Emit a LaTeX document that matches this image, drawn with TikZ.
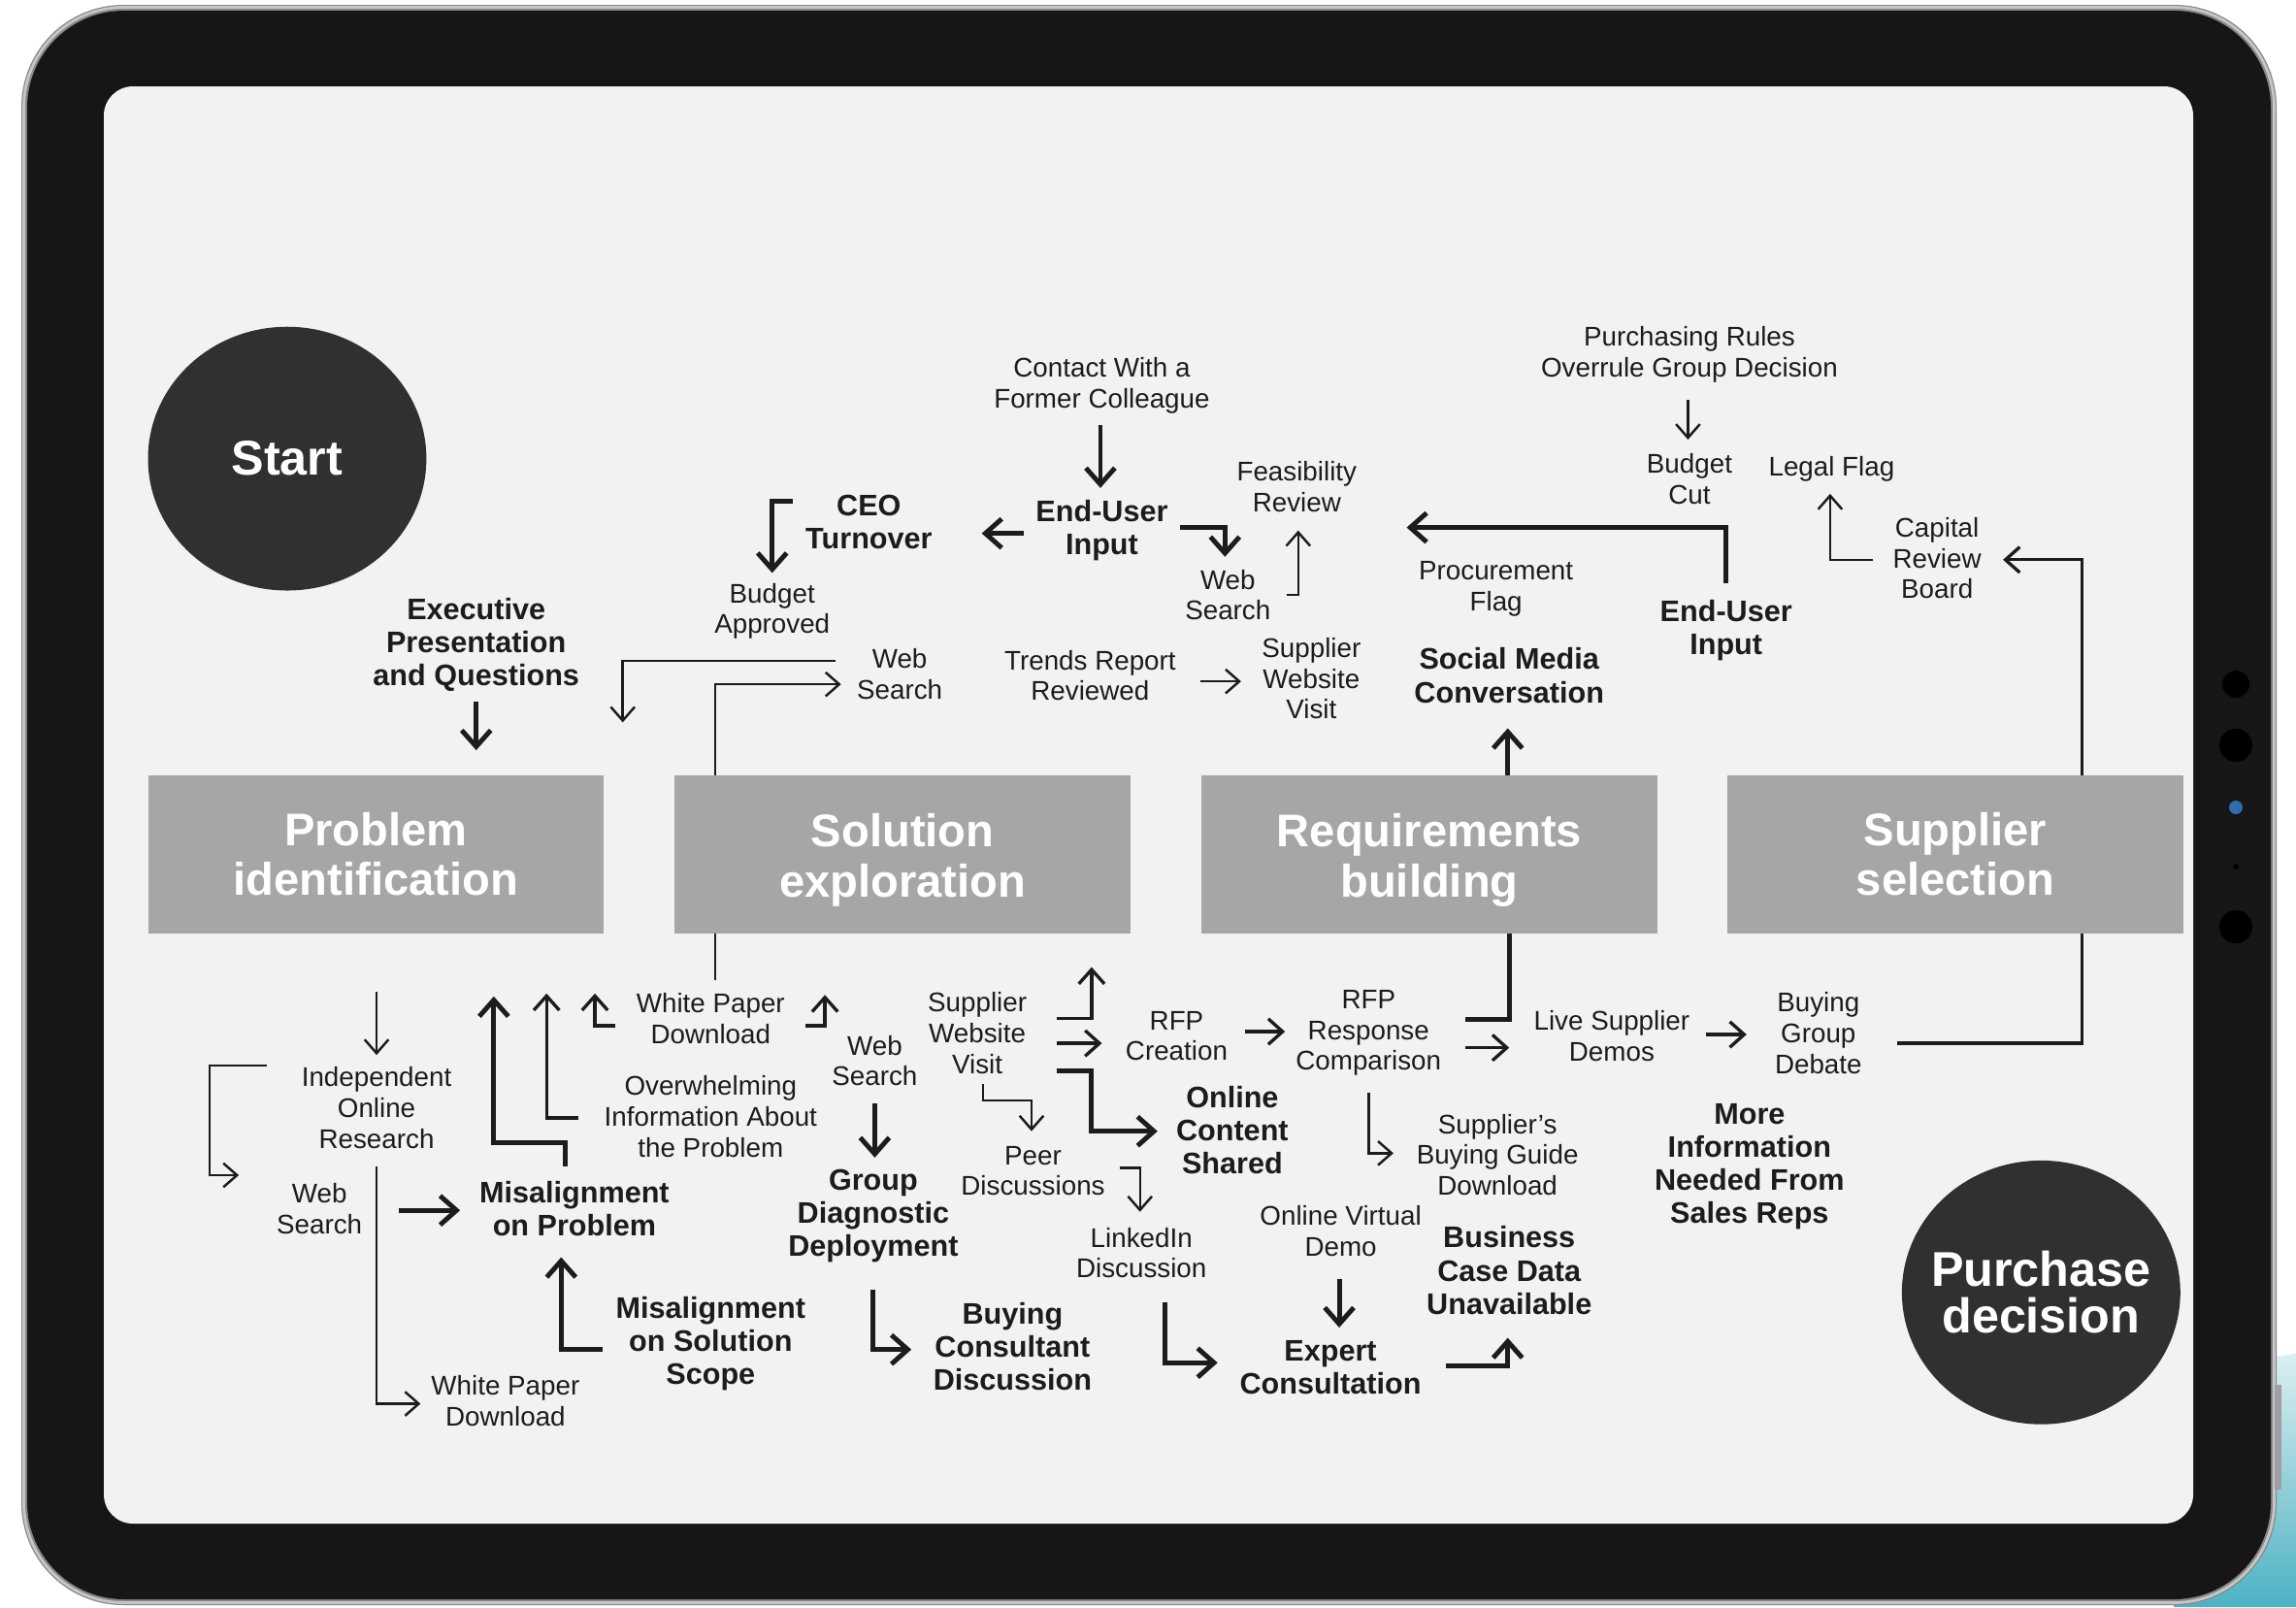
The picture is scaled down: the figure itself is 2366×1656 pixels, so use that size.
\documentclass[tikz,border=0pt]{standalone}
\usepackage{fontspec}
\setmainfont{Liberation Sans}
\usetikzlibrary{arrows.meta}
\definecolor{ink}{HTML}{1C1C1C}
\definecolor{screenbg}{HTML}{F2F2F2}
\definecolor{bezel}{HTML}{161616}
\definecolor{rim}{HTML}{86868C}
\definecolor{stagegray}{HTML}{A6A6A6}
\definecolor{discgray}{HTML}{303030}
\definecolor{camblue}{HTML}{2E6DB0}
\definecolor{tealA}{HTML}{DCEFF1}
\definecolor{tealB}{HTML}{4DB2C3}
\tikzset{
 lbl/.style={align=center,text=ink,inner sep=0pt,font=\fontsize{7.9}{9.0}\selectfont},
 blbl/.style={align=center,text=ink,inner sep=0pt,font=\bfseries\fontsize{8.7}{9.7}\selectfont},
 stagebox/.style={fill=stagegray,text=white,align=center,inner sep=0pt,minimum width=4.693cm,minimum height=1.630cm,font=\bfseries\fontsize{13.4}{14.6}\selectfont},
 disctext/.style={text=white,align=center,inner sep=0pt,font=\bfseries\fontsize{14.3}{13.7}\selectfont},
 ln/.style={draw=ink,line width=0.7pt},
 mln/.style={draw=ink,line width=0.95pt},
 bln/.style={draw=ink,line width=1.4pt},
 arr/.style={ln,-{Straight Barb[length=4pt,width=7pt]}},
 marr/.style={mln,-{Straight Barb[length=4.2pt,width=7.5pt]}},
 barr/.style={bln,-{Straight Barb[length=4.8pt,width=8.5pt]}},
}
\begin{document}
\begin{tikzpicture}[x=0.01cm,y=-0.01cm]
\useasboundingbox (0,0) rectangle (2366,1656);
\fill[white] (0,0) rectangle (2366,1656);
% background object at bottom right
\shade[top color=tealA,bottom color=tealB] (2300,1405) -- (2366,1395) -- (2366,1656) -- (2240,1656) -- cycle;
% tablet
\fill[rim,rounded corners=1.05cm] (22,5) rectangle (2346,1654);
\draw[gray!45,line width=0.8pt,rounded corners=1.03cm] (24.5,7.5) rectangle (2343.5,1651.5);
\fill[bezel,rounded corners=1.0cm] (28,11) rectangle (2340,1648);
\fill[rim!80] (2344,1427) rectangle (2351,1535);
\fill[screenbg,rounded corners=0.3cm] (107,89) rectangle (2260,1570);
% camera / sensors
\fill[black] (2304,705) circle[radius=14];
\fill[black] (2304,768) circle[radius=17];
\fill[camblue] (2304,832) circle[radius=7];
\fill[black] (2304,893) circle[radius=3];
\fill[black] (2304,955) circle[radius=17];

\begin{scope}[x=0.0150893cm,y=-0.0150893cm]
% discs and stages
\fill[discgray] (196,313) ellipse[x radius=95,y radius=90];
\fill[discgray] (1393,882) ellipse[x radius=95,y radius=90];
\node[disctext] (start) at (196,313) {Start};
\node[disctext] (purchase) at (1393,882) {Purchase\\decision};
\node[stagebox] (pi) at (256.5,583) {Problem\\identification};
\node[stagebox,text depth=0pt] (se) at (616,583) {};
\node[stagebox] (rb) at (975.5,583) {};
\node[stagebox] (ss) at (1334.5,583) {Supplier\\selection};
\node[text=white,align=center,inner sep=0pt,font=\bfseries\fontsize{13.4}{14.6}\selectfont] (setext) at (616,587) {Solution\\exploration};
\node[text=white,align=center,inner sep=0pt,font=\bfseries\fontsize{13.4}{14.6}\selectfont] (rbtext) at (975.5,587) {Requirements\\building};

% top labels
\node[lbl] (contact) at (752,263) {Contact With a\\Former Colleague};
\node[blbl] (eu1) at (752,362) {End-User\\Input};
\node[blbl] (ceo) at (593,356) {CEO\\Turnover};
\node[lbl] (budget) at (527,417) {Budget\\Approved};
\node[blbl] (exec) at (325,440) {Executive\\Presentation\\and Questions};
\node[lbl] (ws1) at (614,460) {Web\\Search};
\node[lbl] (ws2) at (838,406) {Web\\Search};
\node[lbl] (feas) at (885,332) {Feasibility\\Review};
\node[lbl] (trends) at (744,461) {Trends Report\\Reviewed};
\node[lbl] (swv1) at (895,463) {Supplier\\Website\\Visit};
\node[lbl] (proc) at (1021,402) {Procurement\\Flag};
\node[blbl] (social) at (1030,461) {Social Media\\Conversation};
\node[blbl] (eu2) at (1178,430) {End-User\\Input};
\node[lbl] (rules) at (1153,242) {Purchasing Rules\\Overrule Group Decision};
\node[lbl] (cut) at (1153,327) {Budget\\Cut};
\node[lbl] (legal) at (1250,320) {Legal Flag};
\node[lbl] (capital) at (1322,381) {Capital\\Review\\Board};

% bottom labels
\node[lbl] (indep) at (257,756) {Independent\\Online\\Research};
\node[lbl] (ws3) at (218,825) {Web\\Search};
\node[lbl] (wpd1) at (345,956) {White Paper\\Download};
\node[blbl] (misprob) at (392,825) {Misalignment\\on Problem};
\node[lbl] (wpd2) at (485,695) {White Paper\\Download};
\node[lbl] (overw) at (485,762) {Overwhelming\\Information About\\the Problem};
\node[lbl] (ws4) at (597,724) {Web\\Search};
\node[blbl] (group) at (596,830) {Group\\Diagnostic\\Deployment};
\node[blbl] (missol) at (485,917) {Misalignment\\on Solution\\Scope};
\node[blbl] (bcd) at (691,919) {Buying\\Consultant\\Discussion};
\node[lbl] (swv2) at (667,705) {Supplier\\Website\\Visit};
\node[lbl] (rfpc) at (803,707) {RFP\\Creation};
\node[blbl] (ocs) at (841,771) {Online\\Content\\Shared};
\node[lbl] (peer) at (705,799) {Peer\\Discussions};
\node[lbl] (linked) at (779,855) {LinkedIn\\Discussion};
\node[blbl] (expert) at (908,933) {Expert\\Consultation};
\node[lbl] (ovd) at (915,840) {Online Virtual\\Demo};
\node[blbl] (bcdu) at (1030,867) {Business\\Case Data\\Unavailable};
\node[lbl] (rfpr) at (934,705) {RFP\\Response\\Comparison};
\node[lbl] (sbg) at (1022,788) {Supplier’s\\Buying Guide\\Download};
\node[lbl] (lsd) at (1100,707) {Live Supplier\\Demos};
\node[lbl] (bgd) at (1241,705) {Buying\\Group\\Debate};
\node[blbl] (more) at (1194,796) {More\\Information\\Needed From\\Sales Reps};

% connector end points
\path (751,290) coordinate (k2a) (751,333) coordinate (k2b)
      (699,364) coordinate (k4a) (670,364) coordinate (k4b)
      (541,342) coordinate (k6a) (527,391) coordinate (k6b)
      (325,479) coordinate (k9a) (325,512) coordinate (k9b)
      (570,451) coordinate (k11a) (425,493) coordinate (k11b)
      (488,529) coordinate (k12a) (574,467) coordinate (k12b)
      (805,360) coordinate (k13a) (836,380) coordinate (k13b)
      (878,406) coordinate (k15a) (886,362) coordinate (k15b)
      (819,465) coordinate (k18a) (847,465) coordinate (k18b)
      (1029,529) coordinate (k22a) (1029,497) coordinate (k22b)
      (1178,398) coordinate (k23a) (960,360) coordinate (k23b)
      (1152,273) coordinate (k26a) (1152,300) coordinate (k26b)
      (1278,382) coordinate (k29a) (1249,337) coordinate (k29b)
      (1421,529) coordinate (k31a) (1367,382) coordinate (k31b)
      (488,637) coordinate (k32a) (488,669) coordinate (k32b)
      (257,677) coordinate (k33a) (257,720) coordinate (k33b)
      (182,727) coordinate (k35a) (143,802) coordinate (k35c) (163,802) coordinate (k35b)
      (257,796) coordinate (k37a) (287,958) coordinate (k37b)
      (272,826) coordinate (k39a) (314,826) coordinate (k39b)
      (386,796) coordinate (k41a) (337,780) coordinate (k41c) (337,680) coordinate (k41b)
      (395,763) coordinate (k42a) (373,678) coordinate (k42b)
      (420,700) coordinate (k43a) (406,678) coordinate (k43b)
      (550,700) coordinate (k45a) (563,679) coordinate (k45b)
      (597,753) coordinate (k48a) (597,790) coordinate (k48b)
      (596,880) coordinate (k50a) (622,921) coordinate (k50b)
      (411,921) coordinate (k52a) (383,858) coordinate (k52b)
      (721,695) coordinate (k55a) (745,660) coordinate (k55b)
      (721,712) coordinate (k56a) (752,712) coordinate (k56b)
      (721,731) coordinate (k58a) (745,772) coordinate (k58c) (790,772) coordinate (k58b)
      (671,740) coordinate (k60a) (704,751) coordinate (k60c) (704,772) coordinate (k60b)
      (764,797) coordinate (k62a) (778,827) coordinate (k62b)
      (795,889) coordinate (k64a) (831,930) coordinate (k64b)
      (914,873) coordinate (k67a) (914,906) coordinate (k67b)
      (987,932) coordinate (k68a) (1029,913) coordinate (k68b)
      (850,704) coordinate (k71a) (877,704) coordinate (k71b)
      (1030,637) coordinate (k72a) (1000,696) coordinate (k72b)
      (1000,715) coordinate (k73a) (1030,715) coordinate (k73b)
      (934,746) coordinate (k74a) (951,787) coordinate (k74b)
      (1164,706) coordinate (k77a) (1192,706) coordinate (k77b)
      (1295,712) coordinate (k79a) (1421,637) coordinate (k79b);

% top connectors
\draw[barr] (k2a) -- (k2b);
\draw[barr] (k4a) -- (k4b);
\draw[barr] (k6a) -| (k6b);
\draw[barr] (k9a) -- (k9b);
\draw[arr] (k11a) -| (k11b);
\draw[arr] (k12a) |- (k12b);
\draw[barr] (k13a) -| (k13b);
\draw[arr] (k15a) -| (k15b);
\draw[arr] (k18a) -- (k18b);
\draw[barr] (k22a) -- (k22b);
\draw[barr] (k23a) |- (k23b);
\draw[arr] (k26a) -- (k26b);
\draw[arr] (k29a) -| (k29b);
\draw[marr] (k31a) |- (k31b);
% bottom connectors
\draw[ln] (k32a) -- (k32b);
\draw[arr] (k33a) -- (k33b);
\draw[arr] (k35a) -| (k35c) -- (k35b);
\draw[arr] (k37a) |- (k37b);
\draw[barr] (k39a) -- (k39b);
\draw[barr] (k41a) |- (k41c) -- (k41b);
\draw[marr] (k42a) -| (k42b);
\draw[marr] (k43a) -| (k43b);
\draw[marr] (k45a) -| (k45b);
\draw[barr] (k48a) -- (k48b);
\draw[barr] (k50a) |- (k50b);
\draw[barr] (k52a) -| (k52b);
\draw[marr] (k55a) -| (k55b);
\draw[marr] (k56a) -- (k56b);
\draw[barr] (k58a) -| (k58c) -- (k58b);
\draw[arr] (k60a) |- (k60c) -- (k60b);
\draw[arr] (k62a) -| (k62b);
\draw[barr] (k64a) |- (k64b);
\draw[barr] (k67a) -- (k67b);
\draw[barr] (k68a) -| (k68b);
\draw[marr] (k71a) -- (k71b);
\draw[bln] (k72a) |- (k72b);
\draw[marr] (k73a) -- (k73b);
\draw[arr] (k74a) |- (k74b);
\draw[marr] (k77a) -- (k77b);
\draw[mln] (k79a) -| (k79b);
\end{scope}
\end{tikzpicture}
\end{document}
